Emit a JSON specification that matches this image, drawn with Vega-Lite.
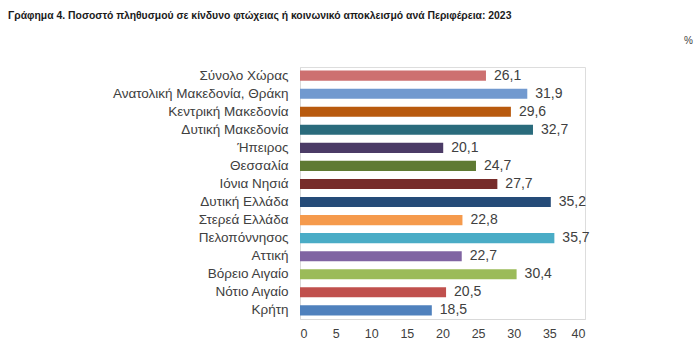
{
  "$schema": "https://vega.github.io/schema/vega-lite/v6.json",
  "autosize": "none",
  "width": 285,
  "height": 252,
  "padding": {"left": 300, "top": 67, "right": 115, "bottom": 41},
  "background": "white",
  "title": {
    "text": "Γράφημα 4. Ποσοστό πληθυσμού σε κίνδυνο φτώχειας ή κοινωνικό αποκλεισμό  ανά Περιφέρεια: 2023",
    "anchor": "start",
    "frame": "group",
    "dx": -292,
    "offset": 14,
    "font": "Liberation Sans, sans-serif",
    "fontSize": 10.4,
    "fontWeight": "bold",
    "color": "#1a1a1a"
  },
  "data": {
    "values": [
      {"region": "Σύνολο Χώρας", "value": 26.1, "label": "26,1"},
      {"region": "Ανατολική Μακεδονία, Θράκη", "value": 31.9, "label": "31,9"},
      {"region": "Κεντρική Μακεδονία", "value": 29.6, "label": "29,6"},
      {"region": "Δυτική Μακεδονία", "value": 32.7, "label": "32,7"},
      {"region": "Ήπειρος", "value": 20.1, "label": "20,1"},
      {"region": "Θεσσαλία", "value": 24.7, "label": "24,7"},
      {"region": "Ιόνια Νησιά", "value": 27.7, "label": "27,7"},
      {"region": "Δυτική Ελλάδα", "value": 35.2, "label": "35,2"},
      {"region": "Στερεά Ελλάδα", "value": 22.8, "label": "22,8"},
      {"region": "Πελοπόννησος", "value": 35.7, "label": "35,7"},
      {"region": "Αττική", "value": 22.7, "label": "22,7"},
      {"region": "Βόρειο Αιγαίο", "value": 30.4, "label": "30,4"},
      {"region": "Νότιο Αιγαίο", "value": 20.5, "label": "20,5"},
      {"region": "Κρήτη", "value": 18.5, "label": "18,5"}
    ]
  },
  "encoding": {
    "y": {
      "field": "region",
      "type": "nominal",
      "sort": null,
      "scale": {"paddingInner": 0.44, "paddingOuter": 0.2},
      "axis": {
        "title": null,
        "ticks": false,
        "domainColor": "#d9d9d9",
        "labelFont": "Liberation Sans, sans-serif",
        "labelFontSize": 13.5,
        "labelColor": "#404040",
        "labelPadding": 12,
        "labelLimit": 300
      }
    },
    "x": {
      "field": "value",
      "type": "quantitative",
      "scale": {"domain": [0, 40], "nice": false},
      "axis": {
        "values": [0, 5, 10, 15, 20, 25, 30, 35, 40],
        "grid": false,
        "ticks": false,
        "domainColor": "#d9d9d9",
        "labelFont": "Liberation Sans, sans-serif",
        "labelFontSize": 12.5,
        "labelColor": "#404040",
        "labelPadding": 8,
        "title": "%",
        "titleFont": "Liberation Sans, sans-serif",
        "titleFontSize": 10,
        "titleFontWeight": "normal",
        "titleColor": "#404040",
        "titleX": 388,
        "titleY": -284,
        "titleAlign": "center"
      }
    }
  },
  "layer": [
    {
      "mark": {"type": "bar"},
      "encoding": {
        "color": {
          "field": "region",
          "type": "nominal",
          "sort": null,
          "legend": null,
          "scale": {
            "domain": ["Σύνολο Χώρας", "Ανατολική Μακεδονία, Θράκη", "Κεντρική Μακεδονία", "Δυτική Μακεδονία", "Ήπειρος", "Θεσσαλία", "Ιόνια Νησιά", "Δυτική Ελλάδα", "Στερεά Ελλάδα", "Πελοπόννησος", "Αττική", "Βόρειο Αιγαίο", "Νότιο Αιγαίο", "Κρήτη"],
            "range": ["#CD7070", "#7199CF", "#B85A0E", "#2A6B7C", "#4B3B66", "#5F7A33", "#772C2A", "#254B78", "#F59A4C", "#4AACC6", "#8064A2", "#9BBB59", "#C0504D", "#4F81BD"]
          }
        }
      }
    },
    {
      "mark": {"type": "text", "align": "left", "baseline": "middle", "dx": 8, "font": "Liberation Sans, sans-serif", "fontSize": 14, "color": "#404040"},
      "encoding": {"text": {"field": "label"}}
    }
  ]
}
